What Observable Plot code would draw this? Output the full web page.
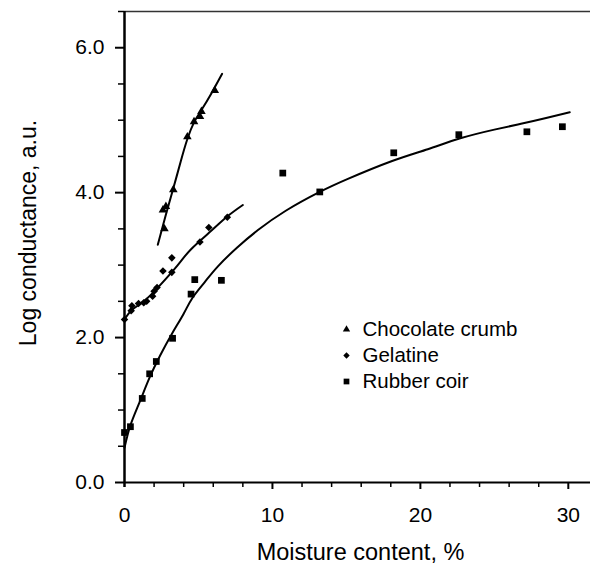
<!DOCTYPE html>
<html><head><meta charset="utf-8">
<script src="https://cdn.jsdelivr.net/npm/d3@7"></script>
<script src="https://cdn.jsdelivr.net/npm/@observablehq/plot@0.6"></script>
<style>body{margin:0;background:#fff;} svg{display:block}</style>
</head><body><div id="chart"></div>
<script>
// Measured points
const chocX = [2.7, 2.6, 2.8, 3.3, 4.25, 4.7, 5.1, 5.2, 6.1];
const chocY = [3.5, 3.76, 3.81, 4.04, 4.77, 4.98, 5.05, 5.12, 5.41];
const gelX = [0, 0.45, 0.5, 0.95, 1.3, 1.5, 1.9, 2.0, 2.2, 2.6, 3.2, 3.2, 5.1, 5.7, 6.95];
const gelY = [2.25, 2.37, 2.44, 2.47, 2.48, 2.5, 2.57, 2.64, 2.69, 2.92, 2.9, 3.1, 3.32, 3.52, 3.66];
const rubX = [0, 0.4, 1.2, 1.7, 2.15, 3.25, 4.5, 4.75, 6.55, 10.7, 13.2, 18.2, 22.6, 27.2, 29.6];
const rubY = [0.69, 0.77, 1.16, 1.5, 1.67, 1.99, 2.6, 2.8, 2.79, 4.27, 4.01, 4.55, 4.8, 4.84, 4.91];
// Fitted curves
const chocFitX = [2.25, 2.8, 3.3, 3.8, 4.25, 4.7, 5.2, 5.9, 6.6];
const chocFitY = [3.28, 3.7, 4.06, 4.43, 4.74, 4.97, 5.14, 5.38, 5.64];
const gelFitX = [0, 0.5, 1.3, 2.3, 3.6, 4.5, 5.9, 7.0, 8.0];
const gelFitY = [2.25, 2.38, 2.5, 2.7, 3.0, 3.22, 3.48, 3.68, 3.83];
const rubFitX = [0, 0.4, 1.0, 1.7, 2.4, 3.2, 4.0, 4.6, 5.4, 6.3, 7.6, 9.0, 10.9, 13.2, 15.1, 18, 20.5, 22.7, 25, 26.8, 28.5, 30.1];
const rubFitY = [0.48, 0.79, 1.1, 1.45, 1.75, 2.05, 2.33, 2.55, 2.76, 2.98, 3.24, 3.48, 3.75, 4.01, 4.19, 4.43, 4.6, 4.75, 4.87, 4.95, 5.03, 5.11];
// Series / legend
const seriesNames = ["Chocolate crumb", "Gelatine", "Rubber coir"];
const seriesSymbols = ["triangle", "diamond2", "square"];
const seriesR = [3.2, 3.4, 3.8];
// Ticks
const xTicks = [0, 10, 20, 30];
const xTickLabels = ["0", "10", "20", "30"];
const xMinor = [2, 4, 6, 8, 12, 14, 16, 18, 22, 24, 26, 28];
const yTicks = [0, 2, 4, 6];
const yTickLabels = ["0.0", "2.0", "4.0", "6.0"];
const yMinor = [0.5, 1, 1.5, 2.5, 3, 3.5, 4.5, 5, 5.5, 6.5];

const pts = (xs, ys) => xs.map((x, i) => ({x, y: ys[i]}));
const pointSets = [pts(chocX, chocY), pts(gelX, gelY), pts(rubX, rubY)];
const fitSets = [pts(chocFitX, chocFitY), pts(gelFitX, gelFitY), pts(rubFitX, rubFitY)];

const legendMarks = [];
seriesNames.forEach((name, i) => {
  legendMarks.push(Plot.dot([name], {frameAnchor: "top-left", dx: 222, dy: 318 + 26 * i,
    symbol: () => seriesSymbols[i], r: seriesR[i] * 0.85, fill: "black", stroke: "none"}));
  legendMarks.push(Plot.text([name], {frameAnchor: "top-left", dx: 238, dy: 318 + 26 * i,
    text: d => d, textAnchor: "start", lineAnchor: "middle", fontSize: 20.5, fill: "black", ariaLabel: "legtext"}));
});

const chart = Plot.plot({
  width: 590, height: 563,
  marginLeft: 124, marginRight: 0, marginTop: 11, marginBottom: 81,
  x: {domain: [0, 31.5], axis: null},
  y: {domain: [0, 6.5], axis: null},
  style: {fontFamily: "'Liberation Sans', Arial, sans-serif", background: "white", color: "black"},
  marks: [
    // frame lines
    Plot.ruleY([6.5], {x1: 0, x2: 31.5, stroke: "#333", strokeWidth: 1.3}),
    Plot.ruleY([0], {x1: 0, x2: 31.5, stroke: "black", strokeWidth: 2}),
    Plot.ruleX([0], {y1: -0.07, y2: 6.5, stroke: "black", strokeWidth: 2.5}),
    // ticks
    Plot.axisY(yTicks, {anchor: "left", tickSize: 9, strokeWidth: 2, tickFormat: () => "", label: null}),
    Plot.axisY(yMinor, {anchor: "left", tickSize: 6, strokeWidth: 1.5, tickFormat: () => "", label: null}),
    Plot.axisX(xTicks.slice(1), {anchor: "bottom", tickSize: 7, strokeWidth: 2, tickFormat: () => "", label: null}),
    Plot.axisX(xMinor, {anchor: "bottom", tickSize: 5, strokeWidth: 1.5, tickFormat: () => "", label: null}),
    // tick labels
    Plot.text(yTicks, {x: 0, y: d => d, text: (d, i) => yTickLabels[i], textAnchor: "end", lineAnchor: "middle",
      dx: -20, fontSize: 21, fill: "black", ariaLabel: "ticklab"}),
    Plot.text(xTicks, {x: d => d, y: 0, text: (d, i) => xTickLabels[i], textAnchor: "middle", lineAnchor: "bottom",
      dy: 39, fontSize: 21, fill: "black", ariaLabel: "ticklab"}),
    // axis titles
    Plot.text(["Moisture content, %"], {frameAnchor: "bottom", dx: 3, dy: 77, lineAnchor: "bottom", textAnchor: "middle",
      text: d => d, fontSize: 23.5, fill: "black", ariaLabel: "xlab"}),
    Plot.text(["Log conductance, a.u."], {frameAnchor: "left", dx: -89, dy: -14, rotate: -90, lineAnchor: "bottom", textAnchor: "middle",
      text: d => d, fontSize: 23, fill: "black", ariaLabel: "ylab"}),
    // curves
    ...fitSets.map(s => Plot.line(s, {x: "x", y: "y", curve: "natural", stroke: "black", strokeWidth: 2})),
    // points
    ...pointSets.map((s, i) => Plot.dot(s, {x: "x", y: "y", symbol: () => seriesSymbols[i], r: seriesR[i], fill: "black", stroke: "none"})),
    ...legendMarks
  ]
});
document.getElementById("chart").appendChild(chart);
const svg = d3.select(chart);
svg.selectAll('g[aria-label="ticklab"] text').style("letter-spacing", "1px");
svg.selectAll('g[aria-label="legtext"] text').style("letter-spacing", "1.3px");
svg.selectAll('g[aria-label="xlab"] text').style("letter-spacing", "1.6px");
svg.selectAll('g[aria-label="ylab"] text').style("letter-spacing", "0.9px");
</script>
</body></html>
